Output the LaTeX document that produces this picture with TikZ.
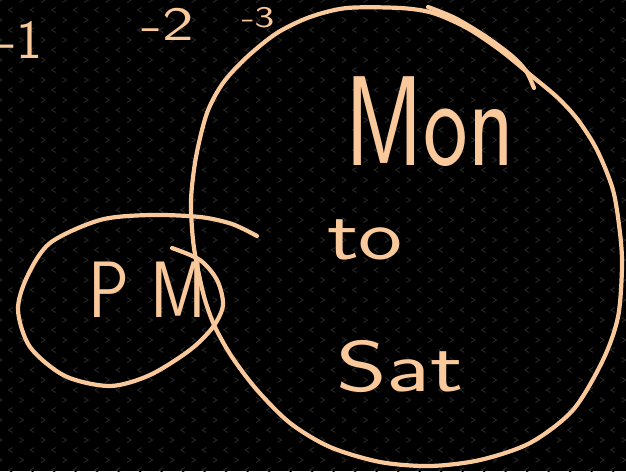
\documentclass[tikz,border=0pt]{standalone}
\usepackage{tikz}
\definecolor{peach}{RGB}{249,200,155}
\definecolor{grainc}{RGB}{36,36,36}

\begin{document}
\begin{tikzpicture}[x=1pt,y=-1pt,
  ink/.style={draw=peach,line width=4.2pt,line cap=round,line join=round},
  grain/.style={draw=grainc,line width=1pt},
  word/.style={text=peach,font=\sffamily,inner sep=0pt}]
\useasboundingbox (0,0) rectangle (626,471);
\clip (0,0) rectangle (626,471);
\fill[black] (0,0) rectangle (626,471);
% faint board texture
\foreach \j in {0,...,47}{
  \foreach \i in {0,...,29}{
    \pgfmathsetmacro{\cx}{\i*21.5+mod(\j,2)*10.7}
    \pgfmathsetmacro{\dir}{ifthenelse(mod(\j,2)==0,1,-1)}
    \draw[grain] (\cx-2*\dir,\j*10-2.5) -- (\cx+2*\dir,\j*10) -- (\cx-2*\dir,\j*10+2.5);
  }
}
% big loop
\draw[ink] plot[smooth cycle] coordinates {(400,8) (347,8) (310,17) (277,33) (247,57) (223,83) (207,113) (196,157) (191,200) (193,240) (198,270) (205,300) (215,327) (232,357) (257,390) (290,423) (330,447) (380,462) (430,466) (480,460) (530,443) (573,410) (603,360) (618,317) (622,267) (620,233) (613,190) (597,150) (578,120) (558,98) (533,77) (500,50) (467,28) (433,13)};
\draw[ink] plot[smooth] coordinates {(428,7) (455,18) (485,36) (512,56) (526,71) (534,88)};
% small loop
\draw[ink] plot[smooth] coordinates {(172,248) (200,260) (217,280) (223,305) (213,327) (190,350) (150,375) (110,386) (65,376) (30,347) (18,310) (27,277) (50,243) (100,220) (150,215) (200,217) (232,224) (257,236)};
% labels
\node[word,font=\sffamily\fontsize{128}{128}\selectfont] (mon) at (430,122) {\scalebox{0.74}[1]{Mon}};
\node[word,font=\sffamily\fontsize{72}{72}\selectfont] (to) at (365,240) {\scalebox{1.3}[1]{to}};
\node[word,font=\sffamily\fontsize{72}{72}\selectfont] (sat) at (400,367) {\scalebox{1.35}[1]{Sat}};
\node[word,font=\sffamily\fontsize{80}{80}\selectfont] (pm) at (147,290) {\scalebox{0.85}[1]{P M}};
\node[word,font=\sffamily\fontsize{55}{55}\selectfont] (neg1) at (21,40) {-1};
\node[word,font=\sffamily\fontsize{48}{48}\selectfont] (neg2) at (168,24) {\scalebox{1.4}[1]{-2}};
\node[word,font=\sffamily\fontsize{30}{30}\selectfont] (neg3) at (258,18) {\scalebox{1.4}[1]{-3}};
\end{tikzpicture}
\end{document}
